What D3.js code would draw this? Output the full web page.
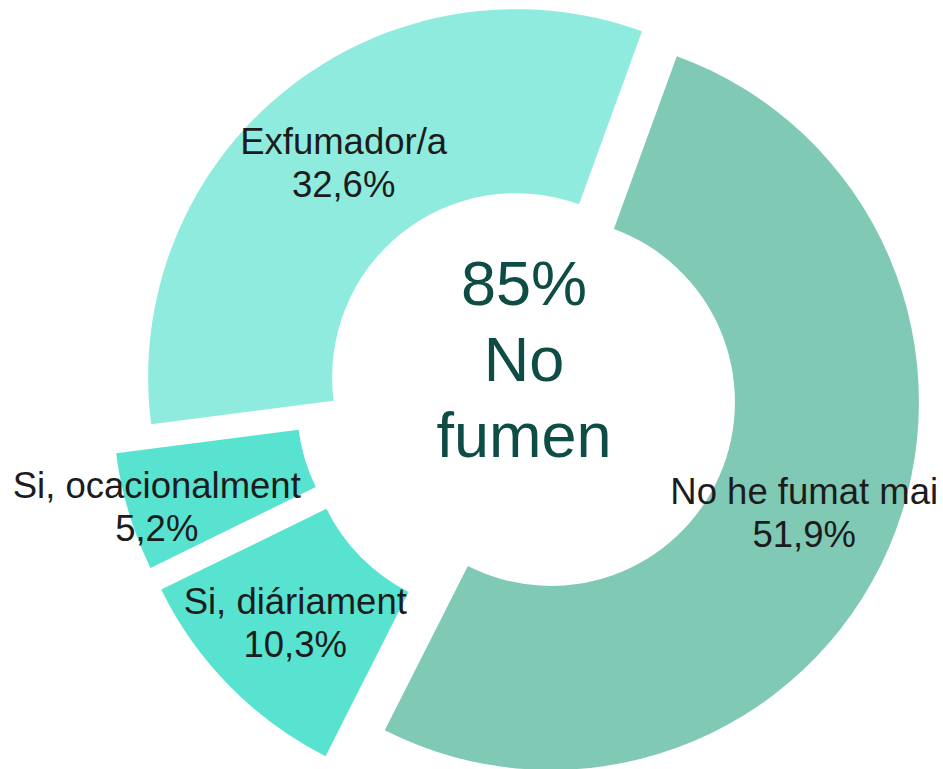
<!DOCTYPE html>
<html>
<head>
<meta charset="utf-8">
<script src="https://cdn.jsdelivr.net/npm/d3@7"></script>
<style>
  body { margin: 0; background: #fff; }
  svg text { font-family: "Liberation Sans", Arial, sans-serif; }
</style>
</head>
<body>
<div id="chart"></div>
<script>
// data
const categories = ["No he fumat mai", "Si, diáriament", "Si, ocacionalment", "Exfumador/a"];
const values = [51.9, 10.3, 5.2, 32.6];
const centerLines = ["85%", "No", "fumen"];

document.addEventListener("DOMContentLoaded", function () {
  const width = 943;
  const height = 769;
  const cx = 528, cy = 392;
  const outerR = 368, innerR = 184;

  // per-slice explode distance and colours
  const explode = [25, 51, 49, 19];
  const colors = ["#7fc9b5", "#57e3d0", "#57e3d0", "#8eebde"];
  // the small slice label was dragged out in the original
  const labelShift = [[0, 0], [0, 0], [-60, 20], [0, 0]];

  const fmt = d3.formatLocale({ decimal: ",", thousands: ".", grouping: [3], currency: ["", "€"] }).format(".1f");

  const svg = d3.select("#chart")
    .append("svg")
    .attr("width", width)
    .attr("height", height);

  const pie = d3.pie()
    .sort(null)
    .startAngle(20 * Math.PI / 180)
    .endAngle(380 * Math.PI / 180);

  const arc = d3.arc().innerRadius(innerR).outerRadius(outerR);
  const labelArc = d3.arc().innerRadius((innerR + outerR) / 2).outerRadius((innerR + outerR) / 2);

  const arcs = pie(values).map((d, i) => {
    const mid = (d.startAngle + d.endAngle) / 2;
    d.dx = explode[i] * Math.sin(mid);
    d.dy = -explode[i] * Math.cos(mid);
    return d;
  });

  const g = svg.append("g").attr("transform", `translate(${cx},${cy})`);

  g.selectAll("path")
    .data(arcs)
    .enter()
    .append("path")
    .attr("transform", d => `translate(${d.dx},${d.dy})`)
    .attr("d", arc)
    .attr("fill", (d, i) => colors[i]);

  const labels = g.selectAll("text.lbl")
    .data(arcs)
    .enter()
    .append("text")
    .attr("class", "lbl")
    .attr("text-anchor", "middle")
    .attr("font-size", 36.5)
    .attr("fill", "#1c1c1c")
    .attr("transform", (d, i) => {
      const c = labelArc.centroid(d);
      return `translate(${c[0] + d.dx + labelShift[i][0]},${c[1] + d.dy + labelShift[i][1]})`;
    });

  labels.append("tspan").attr("x", 0).attr("y", -7.5).text((d, i) => categories[i]);
  labels.append("tspan").attr("x", 0).attr("y", 35).text(d => fmt(d.value) + "%");

  // centre text
  g.append("text")
    .attr("text-anchor", "middle")
    .attr("font-size", 63)
    .attr("fill", "#0d4d45")
    .selectAll("tspan")
    .data(centerLines)
    .enter()
    .append("tspan")
    .attr("x", -4)
    .attr("y", (d, i) => -87 + i * 76)
    .text(d => d);
});
</script>
</body>
</html>
